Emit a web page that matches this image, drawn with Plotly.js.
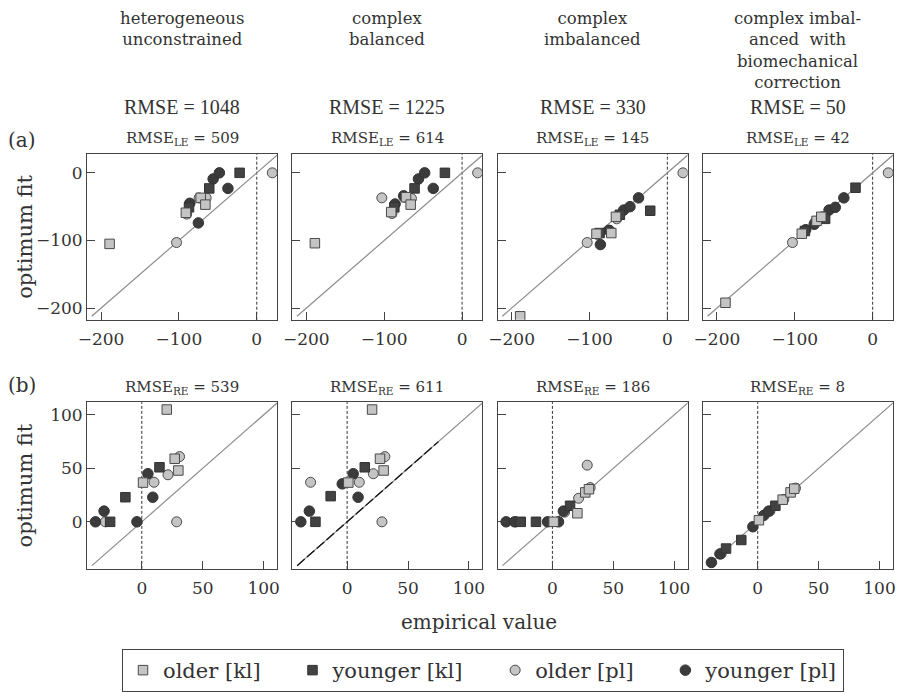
<!DOCTYPE html>
<html><head><meta charset="utf-8">
<script src="https://cdn.plot.ly/plotly-3.0.1.min.js"></script>
<style>html,body{margin:0;padding:0;background:#fff}#chart{width:900px;height:692px}</style>
</head><body><div id="chart"></div>
<script>
// ---------- data ----------
const panelTitles = ["heterogeneous<br>unconstrained", "complex<br>balanced", "complex<br>imbalanced",
  "complex imbal-<br>anced  with<br>biomechanical<br>correction"];
const rmseTotal = [1048, 1225, 330, 50];
const rmseLE = [509, 614, 145, 42];
const rmseRE = [539, 611, 186, 8];
const seriesNames = ["older [kl]", "younger [kl]", "older [pl]", "younger [pl]"];
const ticksLE = [-200, -100, 0];
const ticksRE = [0, 50, 100];

// row (a): LE empirical values (x) per group
const leEmpOlderKl = [-189, -91, -72, -66];
const leEmpYoungerKl = [-87, -61, -22];
const leEmpOlderPl = [-103, -90, -74, -65, 20];
const leEmpYoungerPl = [-86, -75, -56, -48, -37];
// row (a): optimum fit (y) per panel
const leFitOlderKl = [[-105, -59, -37, -47], [-104, -58, -36, -47], [-212, -90, -89, -65], [-192, -90, -71, -65]];
const leFitYoungerKl = [[-51, -23, 0], [-51, -23, 0], [-89, -62, -56], [-86, -68, -22]];
const leFitOlderPl = [[-103, -61, -37, -37, 0], [-37, -60, -36, -38, 0], [-103, -91, -85, -68, 0], [-103, -89, -73, -65, 0]];
const leFitYoungerPl = [[-45, -74, -9, 0, -23], [-46, -34, -9, 0, -23], [-106, -85, -55, -50, -37], [-84, -76, -55, -51, -37]];

// row (b): RE empirical values (x) per group
const reEmpOlderKl = [1, 20.5, 27, 30];
const reEmpYoungerKl = [-26, -13.5, 14.5];
const reEmpOlderPl = [-30, 10, 21.5, 28.6, 31];
const reEmpYoungerPl = [-38, -31, -4, 5, 9];
// row (b): optimum fit (y) per panel
const reFitOlderKl = [[36.7, 105, 59, 48], [36.7, 105, 59, 48], [0, 8, 27.5, 30.5], [1.5, 20.7, 27.5, 31]];
const reFitYoungerKl = [[0, 23, 51], [0, 24, 51], [0, 0, 15], [-25, -17, 15]];
const reFitOlderPl = [[0, 37, 44, 0, 61], [37, 37, 45, 0, 61], [0, 9, 22, 53, 32], [-30, 10, 21, 29, 31.5]];
const reFitYoungerPl = [[0, 10, 0, 45, 23], [0, 10, 35.5, 45, 23], [0, 0, 0, 0, 10], [-38, -30, -4.6, 6, 10]];

// identity lines
const identityLE = [-212, 30];
const identityRE = [-41, 115];
const balancedOverlayRE = [-41, 75];

// ---------- layout helpers ----------
const W = 900, H = 692;
const xp = p => p / W;
const yp = p => 1 - p / H;
const colLeft = [87, 292.3, 497.6, 702.9];
const colW = 190;
const rowTop = [155, 405], rowBot = [322, 573];
const rangeLE = {x: [-218, 26], y: [-217, 28]};
const rangeRE = {x: [-45, 111], y: [-44, 112]};

const serif = "DejaVu Serif";
const txtColor = "#333";

const styles = [
  {symbol: "square", size: 9.5, color: "#c4c4c4", line: {color: "#4a4a4a", width: 1}},
  {symbol: "square", size: 9.5, color: "#424242", line: {color: "#333", width: 1}},
  {symbol: "circle", size: 10, color: "#c4c4c4", line: {color: "#4a4a4a", width: 1}},
  {symbol: "circle", size: 10.5, color: "#3b3b3b", line: {color: "#333", width: 1}}
];
const legendNames = seriesNames.map((n, i) => i < 3 ? n + "\u00a0\u00a0\u00a0\u00a0" : n);

const traces = [];
const layout = {
  width: W, height: H,
  margin: {l: 0, r: 0, t: 0, b: 0},
  paper_bgcolor: "#fff", plot_bgcolor: "#fff",
  font: {family: serif, color: txtColor, size: 17},
  showlegend: true,
  legend: {
    orientation: "h", x: xp(483), xanchor: "center", y: yp(654), yanchor: "top",
    bordercolor: "#444", borderwidth: 1, font: {family: serif, size: 21, color: txtColor},
    traceorder: "normal", itemclick: false
  },
  shapes: [], annotations: []
};

const drawOrder = [2, 3, 1, 0]; // circles below squares
for (let r = 0; r < 2; r++) {
  for (let c = 0; c < 4; c++) {
    const k = r * 4 + c + 1;
    const xa = "x" + (k === 1 ? "" : k), ya = "y" + (k === 1 ? "" : k);
    const rng = r === 0 ? rangeLE : rangeRE;
    const tv = r === 0 ? ticksLE : ticksRE;
    const common = {
      showline: true, mirror: true, linecolor: "#444", linewidth: 1,
      ticks: "inside", ticklen: 8, tickcolor: "#444", tickwidth: 1,
      showgrid: false, zeroline: false, tickmode: "array", tickvals: tv,
      tickfont: {family: serif, size: 17, color: txtColor}, fixedrange: true
    };
    layout["xaxis" + (k === 1 ? "" : k)] = Object.assign({}, common, {
      domain: [xp(colLeft[c]), xp(colLeft[c] + colW)], range: rng.x, anchor: ya, ticklabelstandoff: 4
    });
    layout["yaxis" + (k === 1 ? "" : k)] = Object.assign({}, common, {
      domain: [yp(rowBot[r]), yp(rowTop[r])], range: rng.y, anchor: xa,
      showticklabels: c === 0
    });

    // identity line
    const idl = r === 0 ? identityLE : identityRE;
    traces.push({x: idl, y: idl, xaxis: xa, yaxis: ya, mode: "lines", showlegend: false,
      hoverinfo: "skip", line: {color: "#8c8c8c", width: 1.2}});
    if (r === 1 && c === 1) {
      traces.push({x: balancedOverlayRE, y: balancedOverlayRE, xaxis: xa, yaxis: ya, mode: "lines",
        showlegend: false, hoverinfo: "skip", line: {color: "#111", width: 1.3, dash: "10px,3px"}});
    }
    // zero dashed line
    layout.shapes.push({type: "line", xref: xa, yref: ya + " domain", x0: 0, x1: 0, y0: 0, y1: 1,
      line: {color: "#333", width: 1, dash: "3px,2px"}, layer: "below"});

    const xs = r === 0 ? [leEmpOlderKl, leEmpYoungerKl, leEmpOlderPl, leEmpYoungerPl]
                       : [reEmpOlderKl, reEmpYoungerKl, reEmpOlderPl, reEmpYoungerPl];
    const ys = r === 0 ? [leFitOlderKl[c], leFitYoungerKl[c], leFitOlderPl[c], leFitYoungerPl[c]]
                       : [reFitOlderKl[c], reFitYoungerKl[c], reFitOlderPl[c], reFitYoungerPl[c]];
    drawOrder.forEach(g => {
      traces.push({
        x: xs[g], y: ys[g], xaxis: xa, yaxis: ya, mode: "markers", type: "scatter",
        name: legendNames[g], legendrank: g + 1, showlegend: k === 1,
        marker: styles[g], hoverinfo: "x+y"
      });
    });

    // subtitle RMSE_LE / RMSE_RE
    const cx = colLeft[c] + colW / 2;
    const sub = r === 0 ? "RMSE<sub>LE</sub> = " + rmseLE[c] : "RMSE<sub>RE</sub> = " + rmseRE[c];
    layout.annotations.push({text: sub, xref: "paper", yref: "paper", x: xp(cx), y: yp(rowTop[r] - 15),
      xanchor: "center", yanchor: "middle", showarrow: false, font: {family: serif, size: 15, color: txtColor}});
  }
}

// column headings
for (let c = 0; c < 4; c++) {
  const cx = colLeft[c] + colW / 2;
  layout.annotations.push({text: panelTitles[c], xref: "paper", yref: "paper", x: xp(cx), y: yp(7),
    xanchor: "center", yanchor: "top", showarrow: false, font: {family: serif, size: 16.5, color: txtColor}});
  layout.annotations.push({text: "RMSE = " + rmseTotal[c], xref: "paper", yref: "paper", x: xp(cx), y: yp(108),
    xanchor: "center", yanchor: "middle", showarrow: false, font: {family: "Liberation Serif", size: 20, color: txtColor}});
}
// row labels and axis titles
layout.annotations.push({text: "(a)", xref: "paper", yref: "paper", x: xp(22), y: yp(141), xanchor: "center", yanchor: "middle",
  showarrow: false, font: {family: serif, size: 20, color: txtColor}});
layout.annotations.push({text: "(b)", xref: "paper", yref: "paper", x: xp(22), y: yp(388), xanchor: "center", yanchor: "middle",
  showarrow: false, font: {family: serif, size: 20, color: txtColor}});
[238.5, 489].forEach(cy => layout.annotations.push({text: "optimum fit", xref: "paper", yref: "paper", x: xp(25), y: yp(cy),
  xanchor: "center", yanchor: "middle", textangle: -90, showarrow: false, font: {family: serif, size: 21, color: txtColor}}));
layout.annotations.push({text: "empirical value", xref: "paper", yref: "paper", x: xp(479), y: yp(627), xanchor: "center",
  yanchor: "middle", showarrow: false, font: {family: serif, size: 20, color: txtColor}});

Plotly.newPlot("chart", traces, layout, {displayModeBar: false, staticPlot: true});
</script></body></html>
